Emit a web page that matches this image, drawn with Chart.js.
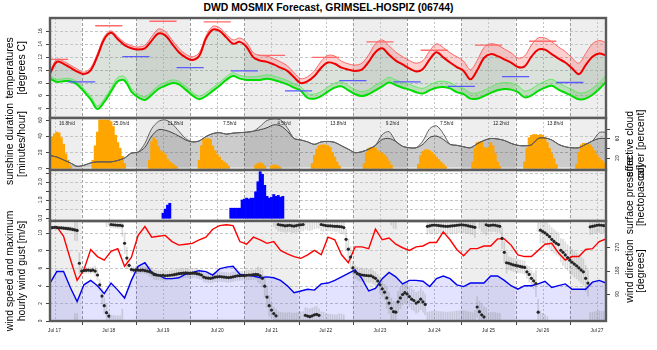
<!DOCTYPE html>
<html>
<head>
<meta charset="utf-8">
<title>DWD MOSMIX Forecast, GRIMSEL-HOSPIZ (06744)</title>
<script src="https://cdn.jsdelivr.net/npm/chart.js@4.4.1/dist/chart.umd.min.js"></script>
<style>
  body { margin: 0; background: #fff; }
  #wrap { position: relative; width: 657px; height: 350px; overflow: hidden; }
  #wrap canvas { position: absolute; left: 0; top: 0; }
  #title {
    position: absolute; left: 0; top: 2px; width: 657px; text-align: center;
    font: bold 10.4px/12px "Liberation Sans", Arial, sans-serif; color: #000;
  }
</style>
</head>
<body>
<div id="wrap">
  <div id="title">DWD MOSMIX Forecast, GRIMSEL-HOSPIZ (06744)</div>
  <canvas id="cTemp" width="657" height="350"></canvas>
  <canvas id="cSun" width="657" height="350"></canvas>
  <canvas id="cRain" width="657" height="350"></canvas>
  <canvas id="cWind" width="657" height="350"></canvas>
</div>
<script>
// hours counted from Jul 17 00:00, 3-hourly series start at hour 10
const FIRST_HOUR = 10;
const STEP = 3;
const dayLabels = ['Jul 17', 'Jul 18', 'Jul 19', 'Jul 20', 'Jul 21', 'Jul 22', 'Jul 23', 'Jul 24', 'Jul 25', 'Jul 26', 'Jul 27'];

// temperatures [degrees C]
const temp = [9.4, 11.2, 10.9, 10.3, 9.7, 9.3, 9.9, 12.1, 14.7, 15.7,
  14.7, 13.8, 13.3, 13.1, 13.3, 14.5, 15.6, 15.3, 14.0, 12.7,
  11.9, 11.5, 12.1, 14.8, 16.2, 16.0, 15.0, 14.0, 14.3, 13.5,
  11.9, 11.4, 11.2, 10.8, 10.3, 9.8, 8.8, 7.9, 8.2, 9.0,
  10.3, 11.1, 10.9, 10.3, 10.0, 9.8, 10.0, 11.2, 12.7, 13.3,
  12.3, 11.4, 10.8, 10.2, 9.7, 10.1, 11.6, 12.7, 11.9, 11.1,
  10.4, 9.8, 8.5, 9.9, 11.8, 12.4, 12.1, 11.6, 11.1, 10.4,
  10.5, 12.0, 13.1, 13.1, 12.4, 11.7, 11.1, 10.2, 9.3, 10.7,
  12.0, 12.5, 12.2];
const tempHigh = [9.7, 11.6, 11.3, 10.7, 10.1, 9.6, 10.3, 12.5, 15.1, 16.0,
  15.1, 14.2, 13.7, 13.5, 13.8, 15.1, 16.3, 15.9, 14.6, 13.3,
  12.4, 12.0, 12.6, 15.2, 16.7, 16.5, 15.5, 14.6, 14.9, 14.2,
  12.6, 12.2, 12.1, 11.7, 11.2, 10.6, 9.5, 8.6, 8.9, 9.8,
  11.3, 12.2, 12.1, 11.3, 10.9, 10.7, 11.0, 12.3, 14.0, 14.6,
  13.7, 12.7, 12.0, 11.4, 11.0, 11.4, 12.9, 14.0, 13.4, 12.6,
  12.0, 11.3, 10.0, 11.4, 13.4, 14.0, 13.8, 13.2, 12.6, 11.8,
  12.1, 13.8, 14.9, 14.9, 14.3, 13.5, 12.8, 11.8, 11.0, 12.5,
  14.0, 14.5, 14.2];
const dewPoint = [8.6, 8.1, 8.2, 8.2, 7.7, 6.6, 5.4, 3.9, 5.0, 6.6,
  8.2, 8.3, 6.6, 5.7, 5.3, 6.1, 7.0, 7.5, 7.9, 7.7,
  6.9, 6.0, 5.4, 5.9, 6.7, 7.5, 8.4, 9.0, 8.6, 8.4,
  8.4, 8.4, 8.6, 8.4, 8.1, 7.7, 7.2, 6.7, 5.6, 5.5,
  5.9, 6.6, 7.2, 7.4, 6.8, 6.2, 5.9, 6.2, 6.8, 7.4,
  8.0, 7.6, 7.2, 6.9, 6.5, 6.3, 6.8, 7.2, 7.3, 7.1,
  6.5, 6.2, 5.5, 5.5, 5.9, 6.4, 6.8, 7.0, 6.9, 6.5,
  5.7, 6.0, 6.7, 7.2, 7.5, 6.9, 6.4, 5.9, 5.4, 5.5,
  6.1, 7.0, 8.1];
const dewHigh = [9.0, 8.5, 8.6, 8.6, 8.1, 7.0, 5.9, 4.4, 5.5, 7.1,
  8.8, 8.9, 7.1, 6.2, 5.8, 6.6, 7.5, 8.0, 8.4, 8.2,
  7.4, 6.5, 5.9, 6.4, 7.2, 8.0, 8.9, 9.5, 9.1, 8.9,
  8.9, 9.0, 9.2, 9.0, 8.7, 8.3, 7.8, 7.3, 6.3, 6.2,
  6.6, 7.3, 7.9, 8.1, 7.5, 6.9, 6.6, 6.9, 7.6, 8.2,
  8.8, 8.4, 8.0, 7.7, 7.3, 7.1, 7.6, 8.1, 8.2, 8.0,
  7.4, 7.1, 6.4, 6.4, 6.8, 7.3, 7.8, 8.0, 7.9, 7.5,
  6.7, 7.0, 7.7, 8.2, 8.5, 7.9, 7.4, 6.9, 6.4, 6.5,
  7.1, 8.0, 9.1];
// daily max (06-18) and night min (18-06), first one on Jul 17
const tMax = [11.6, 16.8, 17.5, 17.4, 12.2, 11.9, 14.3, 13.0, 13.8, 14.4];
const tMin = [8.1, 12.0, 10.3, 9.8, 6.7, 8.3, 8.1, 7.4, 8.9, 8.0];

// sunshine duration [minutes/hour], blocks of hourly values
const sunStart = [10, 29, 54, 76, 101, 108, 126, 149, 173, 197, 220, 243];
const sunMinutes = [
  [27, 39, 43, 45, 44, 38, 30, 18, 10, 3],
  [10, 28, 45, 60, 60, 60, 60, 60, 58, 52, 41, 32, 25, 15, 6],
  [10, 33, 38, 35, 27, 22, 20, 17, 11, 8, 6, 4, 2],
  [10, 28, 36, 37, 37, 36, 28, 22, 17, 14, 10, 8, 6, 3],
  [4, 6, 7, 6, 3],
  [3, 4, 4, 3, 1],
  [6, 16, 24, 28, 29, 29, 29, 28, 26, 20, 14, 8, 3],
  [6, 20, 25, 26, 26, 25, 22, 20, 19, 17, 14, 9, 4],
  [5, 16, 21, 23, 23, 22, 20, 17, 14, 11, 8, 5, 2],
  [8, 25, 32, 33, 33, 26, 25, 26, 32, 28, 18, 8, 2],
  [8, 25, 38, 41, 42, 42, 41, 42, 41, 38, 32, 25, 18, 12, 5],
  [5, 20, 29, 31, 31, 30, 29, 26, 22, 17, 13, 10, 7, 5]
];
const sunPerDay = [16.8, 25.0, 11.8, 7.5, 4.5, 13.8, 9.2, 7.5, 12.2, 13.8];

// effective cloud cover [percent], 3-hourly
const cloud = [25, 22, 16, 10, 3, 5, 10, 12, 12, 12,
  15, 20, 30, 32, 42, 65, 78, 77, 72, 65,
  57, 53, 55, 64, 70, 72, 69, 71, 72, 73,
  75, 78, 82, 88, 86, 75, 60, 57, 53, 48,
  53, 54, 52, 45, 38, 31, 33, 38, 46, 58,
  60, 54, 44, 41, 41, 48, 62, 65, 58, 48,
  46, 43, 41, 49, 56, 60, 59, 56, 50, 46,
  45, 47, 60, 61, 57, 48, 43, 41, 41, 48,
  55, 60, 60];
const cloudHigh = [25, 22, 16, 10, 3, 5, 10, 12, 12, 12,
  15, 20, 30, 32, 50, 80, 95, 98, 90, 75,
  60, 53, 55, 64, 70, 72, 69, 71, 72, 73,
  75, 85, 97, 100, 98, 82, 60, 57, 53, 48,
  53, 54, 52, 45, 38, 31, 33, 38, 46, 68,
  74, 54, 44, 41, 41, 55, 80, 86, 70, 48,
  46, 43, 41, 49, 56, 60, 59, 56, 50, 46,
  45, 47, 60, 61, 57, 48, 43, 41, 41, 48,
  55, 72, 73];

// precipitation [mm/h], blocks of hourly values
const rainStart = [60, 90];
const rainAmount = [
  [0.28, 0.5, 0.72, 0.82],
  [0.55, 0.55, 0.55, 0.55, 0.55, 1.0, 1.05, 1.1, 1.05, 1.1, 1.1, 1.45, 2.0, 2.55, 2.4, 1.8, 1.2, 1.1, 1.15, 1.3, 1.2, 1.25, 1.15, 1.2]
];

// wind [m/s], 3-hourly
const windGust = [10.4, 10.7, 9.6, 7.0, 4.6, 5.8, 8.1, 7.3, 6.9, 7.9,
  8.2, 6.2, 7.2, 9.7, 10.7, 9.5, 9.6, 9.7, 9.0, 8.6,
  8.7, 8.8, 9.2, 9.5, 10.4, 10.8, 10.9, 10.8, 9.0, 8.7,
  9.5, 9.2, 8.8, 9.0, 8.0, 7.6, 7.3, 7.1, 7.5, 8.0,
  7.5, 9.5, 9.2, 7.5, 6.6, 8.4, 8.4, 8.2, 10.4, 9.2,
  9.4, 8.7, 8.3, 8.0, 8.4, 8.5, 8.9, 8.9, 10.1, 9.2,
  8.1, 7.4, 8.2, 8.2, 8.5, 8.5, 9.3, 9.3, 8.6, 7.5,
  7.3, 7.3, 8.0, 8.7, 8.8, 7.7, 6.9, 7.3, 7.3, 8.1,
  8.2, 9.0, 9.3];
const windSpeed = [4.3, 5.6, 5.6, 3.8, 2.2, 4.1, 4.6, 4.0, 3.1, 4.3,
  3.5, 2.6, 4.6, 6.2, 6.6, 5.5, 5.2, 4.8, 4.8, 4.9,
  5.3, 5.5, 5.7, 5.6, 5.2, 5.9, 6.1, 6.2, 5.3, 5.2,
  5.1, 4.9, 5.0, 4.9, 4.6, 4.0, 3.2, 3.4, 3.6, 3.5,
  4.2, 4.3, 4.6, 5.0, 5.4, 5.8, 4.8, 3.4, 3.7, 4.8,
  5.5, 5.0, 4.2, 4.6, 4.6, 4.5, 3.9, 4.8, 5.1, 4.8,
  4.1, 3.9, 4.3, 4.3, 4.3, 5.1, 5.1, 4.6, 4.0, 3.6,
  4.0, 4.0, 4.2, 4.5, 3.8, 4.0, 4.2, 3.6, 3.6, 3.6,
  4.4, 4.6, 4.3];
// wind direction [degrees], hourly from hour 10
const windDir = [
  345, 345, 346, 345, 344, 344, 343, 342, 341, 340, 338, 336, 334, 208,
  178, 180, 181, 182, 180, 182, 178, 163, 125, 82, 45, 18, 5, 357, 356, 355, 354, 354, 352, 285, 228, 200, 184, 182,
  183, 182, 181, 182, 180, 178, 176, 172, 165, 163, 162, 161, 162, 160, 161, 162, 163, 164, 166, 168, 169, 170, 171, 170,
  169, 170, 170, 168, 166, 163, 155, 152, 151, 150, 152, 155, 156, 157, 156, 155, 154, 153, 154, 156, 158, 160, 160, 161,
  160, 162, 163, 163, 164, 165, 164, 160, 150, 120, 78, 45, 28, 15, 6, 357, 355, 354, 352, 353, 354, 352, 351, 353,
  355, 356, 357, 8, 5, 3, 6, 10, 12, 8, 357, 355, 353, 352, 352, 351, 350, 350, 349, 348, 345, 300, 262, 232,
  190, 175, 168, 165, 163, 162, 161, 160, 160, 155, 150, 140, 125, 110, 97, 75, 55, 35, 22, 20, 60, 75, 88, 95,
  90, 80, 70, 65, 55, 60, 70, 60, 50, 350, 352, 354, 355, 354, 353, 352, 351, 350, 350, 351, 352, 353, 354, 355,
  356, 355, 354, 352, 350, 348, 346, 40, 22, 10, 2, 356, 353, 354, 355, 354, 352, 350, 304, 250, 210, 208, 205, 202,
  200, 198, 196, 194, 192, 175, 165, 150, 140, 130, 20, 335, 330, 325, 318, 310, 300, 292, 285, 280, 258, 250, 240, 230,
  220, 212, 205, 198, 190, 182, 175, 150, 132, 348, 350, 352, 354, 355, 354, 353, 352
];
// half width of the direction range [degrees], 3-hourly
const dirSpread = [6, 6, 6, 8, 40, 12, 12, 20, 30, 12,
  12, 40, 12, 12, 12, 18, 18, 18, 18, 18,
  18, 18, 18, 18, 18, 18, 18, 18, 18, 18,
  18, 30, 40, 25, 25, 25, 25, 25, 30, 30,
  25, 20, 20, 25, 40, 25, 25, 25, 25, 30,
  40, 40, 40, 40, 40, 40, 30, 30, 30, 30,
  30, 30, 30, 40, 40, 25, 25, 40, 25, 25,
  25, 30, 50, 45, 45, 45, 50, 50, 50, 50,
  30, 30, 30];

// ---------- helpers ----------
const FONT = '"Liberation Sans", Arial, sans-serif';
const pts = vals => vals.map((v, i) => ({ x: FIRST_HOUR + i * STEP, y: v }));
const hourly = (start, vals) => vals.map((v, i) => ({ x: start + i, y: v }));
function blocks(starts, lists) {
  const out = [];
  starts.forEach((s, i) => lists[i].forEach((v, j) => out.push({ x: s + j, y: v })));
  return out;
}
function segments(vals, from, to) {
  const out = [];
  vals.forEach((v, d) => {
    out.push({ x: d * 24 + from, y: v }, { x: d * 24 + to, y: v }, { x: d * 24 + to, y: null });
  });
  return out;
}
// floating bars for the direction range, split where it wraps past 0 / 360
function dirRanges() {
  const out = [];
  windDir.forEach((d, i) => {
    const h = FIRST_HOUR + i;
    const s = dirSpread[Math.min(dirSpread.length - 1, Math.round(i / STEP))];
    let lo = d - s, hi = d + s;
    if (lo < 0) { out.push({ x: h, y: [lo + 360, 372] }); lo = -15; }
    if (hi > 360) { out.push({ x: h, y: [-15, hi - 360] }); hi = 372; }
    out.push({ x: h, y: [lo, hi] });
  });
  return out;
}

function rotText(ctx, txt, x, y, align, base) {
  ctx.save();
  ctx.translate(x, y);
  ctx.rotate(-Math.PI / 2);
  ctx.textAlign = align || 'center';
  ctx.textBaseline = base || 'middle';
  ctx.fillText(txt, 0, 0);
  ctx.restore();
}

// backgrounds, grid, frame, axes and texts of one panel
const panelDeco = {
  id: 'panelDeco',
  beforeDraw(chart, args, o) {
    const { ctx, chartArea: a, scales } = chart;
    const x = scales.x, y = scales.y;
    ctx.save();
    ctx.fillStyle = '#eeeeee';
    for (let d = 0; d < 11; d += 2) {
      const x0 = Math.max(a.left, x.getPixelForValue(d * 24));
      const x1 = Math.min(a.right, x.getPixelForValue(d * 24 + 24));
      if (x1 > x0) ctx.fillRect(x0, a.top, x1 - x0, a.bottom - a.top);
    }
    ctx.lineWidth = 1;
    for (let h = 12; h < x.max; h += 12) {
      const px = Math.round(x.getPixelForValue(h)) + 0.5;
      const midnight = h % 24 === 0;
      ctx.strokeStyle = midnight ? '#9c9c9c' : '#c6c6c6';
      ctx.setLineDash(midnight ? [3, 2] : [2, 2]);
      ctx.beginPath(); ctx.moveTo(px, a.top); ctx.lineTo(px, a.bottom); ctx.stroke();
    }
    ctx.strokeStyle = '#c6c6c6';
    ctx.setLineDash([3, 2]);
    for (const v of o.grid) {
      const py = Math.round(y.getPixelForValue(v)) + 0.5;
      ctx.beginPath(); ctx.moveTo(a.left, py); ctx.lineTo(a.right, py); ctx.stroke();
    }
    ctx.restore();
  },
  afterDatasetsDraw(chart, args, o) {
    const { ctx, chartArea: a, scales } = chart;
    const x = scales.x;
    ctx.save();
    ctx.fillStyle = '#222';
    ctx.strokeStyle = '#444';
    ctx.lineWidth = 1;
    ctx.font = o.tickFont + 'px ' + FONT;
    // left axis
    o.leftTicks.forEach(v => {
      const py = Math.round(scales.y.getPixelForValue(v)) + 0.5;
      ctx.beginPath(); ctx.moveTo(a.left - 4, py); ctx.lineTo(a.left, py); ctx.stroke();
    });
    o.leftLabels.forEach(v => {
      rotText(ctx, v.toFixed(o.leftDigits), a.left - 7, scales.y.getPixelForValue(v), 'center', 'bottom');
    });
    // right axis
    if (o.rightTicks) {
      const y2 = scales.y2;
      o.rightTicks.forEach(v => {
        const py = Math.round(y2.getPixelForValue(v)) + 0.5;
        ctx.beginPath(); ctx.moveTo(a.right, py); ctx.lineTo(a.right + 4, py); ctx.stroke();
      });
      o.rightLabels.forEach(v => rotText(ctx, String(v), a.right + 9, y2.getPixelForValue(v), 'center', 'top'));
    }
    // x axis at the bottom panel
    if (o.xAxis) {
      for (let h = 24; h < x.max; h += 24) {
        const px = Math.round(x.getPixelForValue(h)) + 0.5;
        ctx.beginPath(); ctx.moveTo(px, a.bottom); ctx.lineTo(px, a.bottom + 4); ctx.stroke();
      }
      ctx.textAlign = 'center';
      ctx.textBaseline = 'middle';
      dayLabels.forEach((lab, d) => ctx.fillText(lab, x.getPixelForValue(d * 24 + 12), a.bottom + 10));
    }
    // daily sunshine sums
    if (o.dayTexts) {
      ctx.textAlign = 'center';
      ctx.textBaseline = 'middle';
      o.dayTexts.forEach((v, d) => ctx.fillText(v.toFixed(1) + 'h/d', x.getPixelForValue(d * 24 + 17.5), a.top + 5.5));
    }
    // frame
    ctx.strokeStyle = '#5a5a5a';
    ctx.lineWidth = 2.4;
    ctx.strokeRect(a.left, a.top, a.right - a.left, a.bottom - a.top);
    // axis titles
    ctx.fillStyle = '#000';
    ctx.font = '10.4px ' + FONT;
    const cy = (a.top + a.bottom) / 2;
    if (o.titleLeft) o.titleLeft.forEach((t, i) => rotText(ctx, t, 10 + i * 12, cy));
    if (o.titleRight) o.titleRight.forEach((t, i) => rotText(ctx, t, 630 + i * 11, cy));
    ctx.restore();
  }
};

function makeChart(id, panel, datasets, yScales, deco) {
  return new Chart(document.getElementById(id), {
    type: 'line',
    data: { datasets },
    plugins: [panelDeco],
    options: {
      responsive: false,
      animation: false,
      events: [],
      layout: { padding: { left: 50, right: 51, top: panel[0], bottom: 350 - panel[1] } },
      elements: { point: { radius: 0 } },
      plugins: {
        legend: { display: false },
        tooltip: { enabled: false },
        filler: { drawTime: 'beforeDatasetsDraw', propagate: false },
        panelDeco: Object.assign({ tickFont: 4.8, leftDigits: 0 }, deco)
      },
      scales: Object.assign({
        x: { type: 'linear', display: false, min: FIRST_HOUR, max: 256, offset: false }
      }, yScales)
    }
  });
}

// ---------- temperature panel ----------
makeChart('cTemp', [18, 118], [
  { data: pts(tempHigh), borderColor: 'rgba(255,90,90,0.9)', borderWidth: 1, tension: 0.35,
    fill: { target: 1, above: 'rgba(255,40,40,0.22)', below: 'rgba(255,40,40,0.22)' }, order: 2 },
  { data: pts(temp), borderColor: '#ee0000', borderWidth: 2, tension: 0.35,
    fill: { target: 3, above: 'rgba(90,120,90,0.22)', below: 'rgba(90,120,90,0.22)' }, order: 1 },
  { data: pts(dewHigh), borderColor: 'rgba(90,235,90,0.9)', borderWidth: 1, tension: 0.35,
    fill: { target: 3, above: 'rgba(40,230,40,0.2)', below: 'rgba(40,230,40,0.2)' }, order: 2 },
  { data: pts(dewPoint), borderColor: '#00dd00', borderWidth: 2, tension: 0.35, order: 1 },
  { data: segments(tMax, 6, 18), borderColor: '#ff6a6a', borderWidth: 1.3, spanGaps: false, order: 0 },
  { data: segments(tMin, 18, 30), borderColor: '#5a5aff', borderWidth: 1.3, spanGaps: false, order: 0 }
], {
  y: { type: 'linear', display: false, min: 2.5, max: 18.0 }
}, {
  grid: [4, 6, 8, 10, 12, 14, 16],
  leftTicks: [4, 6, 8, 10, 12, 14, 16],
  leftLabels: [4, 6, 8, 10, 12, 14, 16],
  titleLeft: ['temperatures', '[degrees C]']
});

// ---------- sunshine and cloud panel ----------
makeChart('cSun', [118, 170], [
  { data: pts(cloudHigh), yAxisID: 'y2', borderColor: '#606060', borderWidth: 1, tension: 0.3,
    fill: { target: 1, above: 'rgba(0,0,0,0.09)', below: 'rgba(0,0,0,0.09)' }, order: 1 },
  { data: pts(cloud), yAxisID: 'y2', borderColor: '#404040', borderWidth: 1, tension: 0.3,
    fill: { target: 'origin', above: 'rgba(0,0,0,0.2)' }, order: 1 },
  { type: 'bar', data: blocks(sunStart, sunMinutes), backgroundColor: '#ffa500', borderWidth: 0,
    barPercentage: 1, categoryPercentage: 1, order: 2 }
], {
  y: { type: 'linear', display: false, min: -2.1, max: 62.5 },
  y2: { type: 'linear', display: false, position: 'right', min: -4.6, max: 102 }
}, {
  grid: [20, 40],
  leftTicks: [0, 20, 40, 60],
  leftLabels: [0, 20, 40, 60],
  rightTicks: [20, 40, 60, 80],
  rightLabels: [20, 60],
  dayTexts: sunPerDay,
  titleLeft: ['sunshine duration', '[minutes/hour]'],
  titleRight: ['effective cloud', 'cover [percent]']
});

// ---------- precipitation panel ----------
makeChart('cRain', [170, 221], [
  { type: 'bar', data: blocks(rainStart, rainAmount), backgroundColor: '#0000ff', borderWidth: 0,
    barPercentage: 1, categoryPercentage: 1 }
], {
  y: { type: 'linear', display: false, min: -0.15, max: 2.64 }
}, {
  grid: [0.5, 1, 1.5, 2, 2.5],
  leftTicks: [0, 0.5, 1, 1.5, 2, 2.5],
  leftLabels: [0, 1, 2],
  leftDigits: 1,
  titleRight: ['surface pressure', '[hectopascal]']
});

// ---------- wind panel ----------
makeChart('cWind', [221, 321], [
  { data: hourly(FIRST_HOUR, windDir), yAxisID: 'y2', showLine: false, pointRadius: 1.6,
    pointBackgroundColor: '#262626', pointBorderWidth: 0, order: 0 },
  { data: pts(windGust), borderColor: '#ff0000', borderWidth: 1.4, tension: 0, order: 1 },
  { data: pts(windSpeed), borderColor: '#0000ee', borderWidth: 1.4, tension: 0,
    fill: { target: 'origin', above: 'rgba(40,40,255,0.13)' }, order: 2 },
  { type: 'bar', data: dirRanges(), yAxisID: 'y2', backgroundColor: 'rgba(120,120,120,0.26)',
    borderWidth: 0, barThickness: 1, grouped: false, order: 3 }
], {
  y: { type: 'linear', display: false, min: 0, max: 11.33 },
  y2: { type: 'linear', display: false, position: 'right', min: -13.8, max: 370.4 }
}, {
  grid: [2, 4, 6, 8, 10],
  leftTicks: [0, 2, 4, 6, 8, 10],
  leftLabels: [0, 2, 4, 6, 8, 10],
  rightTicks: [90, 180, 270],
  rightLabels: [90, 180, 270],
  xAxis: true,
  titleLeft: ['wind speed and maximum', 'hourly wind gust [m/s]'],
  titleRight: ['wind direction', '[degrees]']
});
</script>
</body>
</html>
